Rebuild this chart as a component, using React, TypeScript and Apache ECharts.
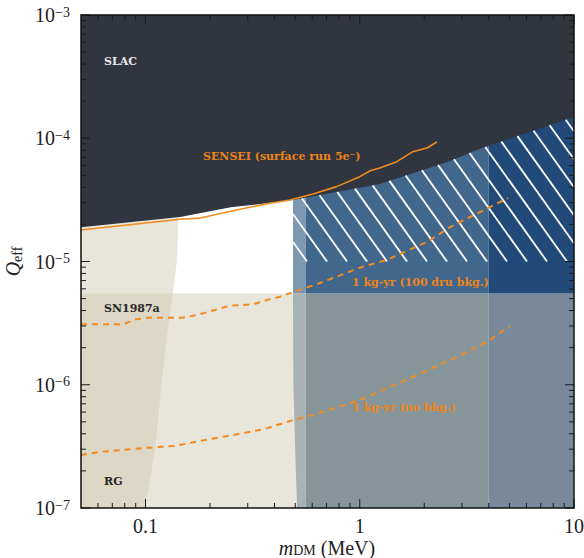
import React, { useEffect, useRef } from "react";
import * as echarts from "echarts";

const X_MIN = 0.05;
const X_MAX = 10;
const Y_MIN = 1e-7;
const Y_MAX = 1e-3;

// axis ticks
const xTickValues = [0.1, 1, 10];
const xTickLabels = ["0.1", "1", "10"];
const xMinorTicks = [0.06, 0.07, 0.08, 0.09, 0.2, 0.3, 0.4, 0.5, 0.6, 0.7, 0.8, 0.9, 2, 3, 4, 5, 6, 7, 8, 9];
const yTickValues = [1e-7, 1e-6, 1e-5, 1e-4, 1e-3];
const yTickExponents = ["−7", "−6", "−5", "−4", "−3"];
const yMinorTicks = [
  2e-7, 3e-7, 4e-7, 5e-7, 6e-7, 7e-7, 8e-7, 9e-7,
  2e-6, 3e-6, 4e-6, 5e-6, 6e-6, 7e-6, 8e-6, 9e-6,
  2e-5, 3e-5, 4e-5, 5e-5, 6e-5, 7e-5, 8e-5, 9e-5,
  2e-4, 3e-4, 4e-4, 5e-4, 6e-4, 7e-4, 8e-4, 9e-4,
];

// SLAC excluded region (lower boundary)
const slacM = [0.05, 0.145, 0.25, 0.488, 1.24, 2.55, 3.64, 10];
const slacQ = [1.9e-5, 2.3e-5, 2.75e-5, 3.15e-5, 4.25e-5, 6.4e-5, 8.2e-5, 1.49e-4];

// SENSEI surface run
const senseiM = [0.05, 0.145, 0.18, 0.266, 0.381, 0.472, 0.605, 0.78, 1.0, 1.12, 1.24, 1.49, 1.77, 2.06, 2.29];
const senseiQ = [1.8e-5, 2.2e-5, 2.25e-5, 2.62e-5, 2.97e-5, 3.15e-5, 3.53e-5, 4.05e-5, 4.88e-5, 5.45e-5, 5.74e-5, 6.46e-5, 7.78e-5, 8.34e-5, 9.33e-5];

// RG (red giant) region right boundary
const rgM = [0.142, 0.1403, 0.1341, 0.126, 0.1194, 0.1107, 0.0995];
const rgQ = [2.0e-5, 1.03e-5, 5.5e-6, 2.53e-6, 1.09e-6, 2.96e-7, 1e-7];

// SN1987a band
const snTopQ = 5.5e-6;
const snEdgeM = [0.488, 0.49, 0.497, 0.51];
const snEdgeQ = [5.5e-6, 1e-6, 4e-7, 1e-7];

// direct-detection style columns
const colEdges = [0.488, 0.56, 4.0, 10];
const hatchBottomQ = 1e-5;

// projections
const druM = [0.05, 0.0785, 0.0893, 0.1016, 0.1496, 0.1739, 0.2156, 0.2479, 0.3174, 0.369, 0.424, 0.472, 0.652, 1.024, 1.34, 2.06, 2.64, 3.64, 4.92];
const druQ = [3.09e-6, 3.09e-6, 3.38e-6, 3.5e-6, 3.5e-6, 3.68e-6, 4.09e-6, 4.38e-6, 4.49e-6, 4.87e-6, 5.18e-6, 5.52e-6, 6.69e-6, 9.03e-6, 1.03e-5, 1.44e-5, 1.9e-5, 2.52e-5, 3.27e-5];
const noBkgM = [0.05, 0.0613, 0.0995, 0.1373, 0.1796, 0.256, 0.361, 0.472, 0.605, 1.0, 1.77, 2.84, 4.05, 5.02];
const noBkgQ = [2.69e-7, 2.85e-7, 3.07e-7, 3.19e-7, 3.5e-7, 3.91e-7, 4.38e-7, 5.08e-7, 5.68e-7, 7.52e-7, 1.156e-6, 1.68e-6, 2.31e-6, 3.0e-6];

const C_SLAC = "#31353f";
const C_BEIGE = "#e8e5da";
const C_BEIGE_DARK = "#ddd7c5";
const BLUE_COLORS = ["#7d98b0", "#42678d", "#214a78"];
const GRAY_COLORS = ["#a9b3b4", "#869599", "#77899a"];
const C_ORANGE = "#f28a1e";
const C_ORANGE_TXT = "#ec8419";

const SERIF = '"Liberation Serif", "DejaVu Serif", serif';
const BOLD_SERIF = '"DejaVu Serif", serif';

type P = [number, number];
const zip = (a: number[], b: number[]): P[] => a.map((v, i) => [v, b[i]] as P);

function polySeries(pts: P[], color: string, z: number) {
  return {
    type: "custom",
    coordinateSystem: "cartesian2d",
    silent: true,
    clip: false,
    z,
    data: [[pts[0][0], pts[0][1]]],
    renderItem: (_p: any, api: any) => ({
      type: "polygon",
      shape: { points: pts.map((p) => api.coord(p)) },
      style: { fill: color, stroke: null },
    }),
  };
}

export default function App() {
  const ref = useRef<HTMLDivElement>(null);
  useEffect(() => {
    if (!ref.current) return;
    const chart = echarts.init(ref.current, null, { renderer: "svg" });

    const polys: any[] = [];
    for (let i = 0; i < 3; i++) {
      polys.push(polySeries([[colEdges[i], snTopQ], [colEdges[i + 1], snTopQ], [colEdges[i + 1], Y_MIN], [colEdges[i], Y_MIN]], GRAY_COLORS[i], 1));
    }
    for (let i = 0; i < 3; i++) {
      polys.push(polySeries([[colEdges[i], Y_MAX], [colEdges[i + 1], Y_MAX], [colEdges[i + 1], snTopQ], [colEdges[i], snTopQ]], BLUE_COLORS[i], 1));
    }
    polys.push(polySeries([[X_MIN, snTopQ], ...zip(snEdgeM, snEdgeQ), [X_MIN, Y_MIN]], C_BEIGE, 1));
    polys.push(polySeries([[X_MIN, 1e-4], [rgM[0], 1e-4], ...zip(rgM, rgQ), [X_MIN, Y_MIN]], C_BEIGE, 1));
    polys.push(polySeries([[X_MIN, snTopQ], ...zip(rgM, rgQ).slice(2), [X_MIN, Y_MIN]], C_BEIGE_DARK, 1));
    polys.push(polySeries([...zip(slacM, slacQ), [X_MAX, Y_MAX], [X_MIN, Y_MAX]], C_SLAC, 1));

    const hatchSeries = {
      type: "custom",
      coordinateSystem: "cartesian2d",
      silent: true,
      clip: false,
      z: 2,
      data: [[1, 1e-5]],
      renderItem: (_p: any, api: any) => {
        const top = slacM.map((m, i) => api.coord([m, slacQ[i]]));
        const bl = api.coord([colEdges[0], hatchBottomQ]);
        const xL = bl[0];
        const yB = bl[1];
        const xR = api.coord([X_MAX, hatchBottomQ])[0];
        const topY = (x: number) => {
          if (x <= top[0][0]) return top[0][1];
          for (let i = 0; i < top.length - 1; i++) {
            if (x <= top[i + 1][0]) {
              const t = (x - top[i][0]) / (top[i + 1][0] - top[i][0]);
              return top[i][1] + t * (top[i + 1][1] - top[i][1]);
            }
          }
          return top[top.length - 1][1];
        };
        const s = 1.4;
        const step = 20;
        const minTop = Math.min(...top.map((p: number[]) => p[1]));
        const children: any[] = [];
        for (let c = xL + 14; c <= xR + (yB - minTop) / s + step; c += step) {
          const ly = (x: number) => yB + s * (x - c);
          let lo = xL - 3000;
          let hi = c;
          for (let k = 0; k < 50; k++) {
            const mid = (lo + hi) / 2;
            if (ly(mid) - topY(mid) < 0) lo = mid;
            else hi = mid;
          }
          const x0 = Math.max(xL, hi);
          const x1 = Math.min(xR, c);
          if (x1 > x0 + 0.5) {
            children.push({
              type: "line",
              shape: { x1: x0, y1: ly(x0), x2: x1, y2: ly(x1) },
              style: { stroke: "#ffffff", lineWidth: 1.8 },
            });
          }
        }
        return { type: "group", children };
      },
    };

    const tickSeries = {
      type: "custom",
      coordinateSystem: "cartesian2d",
      silent: true,
      clip: false,
      z: 10,
      data: [[1, 1e-5]],
      renderItem: (_p: any, api: any) => {
        const tl = api.coord([X_MIN, Y_MAX]);
        const br = api.coord([X_MAX, Y_MIN]);
        const children: any[] = [];
        const tickStyle = { stroke: "#1a1a1a", lineWidth: 1 };
        const addX = (v: number, len: number) => {
          const x = api.coord([v, Y_MIN])[0];
          children.push({ type: "line", shape: { x1: x, y1: br[1], x2: x, y2: br[1] - len }, style: tickStyle });
          children.push({ type: "line", shape: { x1: x, y1: tl[1], x2: x, y2: tl[1] + len }, style: tickStyle });
        };
        const addY = (v: number, len: number) => {
          const y = api.coord([X_MIN, v])[1];
          children.push({ type: "line", shape: { x1: tl[0], y1: y, x2: tl[0] + len, y2: y }, style: tickStyle });
          children.push({ type: "line", shape: { x1: br[0], y1: y, x2: br[0] - len, y2: y }, style: tickStyle });
        };
        xTickValues.forEach((v) => addX(v, 9));
        xMinorTicks.forEach((v) => addX(v, 5));
        yTickValues.forEach((v) => addY(v, 9));
        yMinorTicks.forEach((v) => addY(v, 5));
        children.push({
          type: "rect",
          shape: { x: tl[0], y: tl[1], width: br[0] - tl[0], height: br[1] - tl[1] },
          style: { fill: "none", stroke: "#111111", lineWidth: 1.5 },
        });
        return { type: "group", children };
      },
    };

    const lineSeries = (m: number[], q: number[], dashed: boolean) => ({
      type: "line",
      z: 3,
      silent: true,
      showSymbol: false,
      symbol: "none",
      clip: false,
      data: zip(m, q),
      lineStyle: { color: C_ORANGE, width: dashed ? 2 : 1.6, type: dashed ? [6, 5] : "solid" },
    });

    const labelStyle = (text: string, x: number, y: number, fill: string, size = 11) => ({
      type: "text",
      z: 100,
      silent: true,
      style: {
        text,
        x,
        y,
        fill,
        font: `bold ${size}px ${BOLD_SERIF}`,
        textAlign: "left",
        textVerticalAlign: "middle",
        align: "left",
        verticalAlign: "middle",
      },
    });

    const tickRich = {
      b: { fontSize: 20, fontFamily: SERIF, color: "#222", lineHeight: 20 },
      s: { fontSize: 14, fontFamily: SERIF, color: "#222", lineHeight: 14, verticalAlign: "top" },
    };

    chart.setOption({
      animation: false,
      backgroundColor: "#ffffff",
      grid: { left: 81, right: 10, top: 15, bottom: 50, containLabel: false, outerBoundsMode: "none" },
      xAxis: {
        type: "log",
        logBase: 10,
        min: X_MIN,
        max: X_MAX,
        axisLine: { show: false },
        axisTick: { show: false },
        minorTick: { show: false },
        splitLine: { show: false },
        axisLabel: {
          margin: 8,
          formatter: (v: number) => {
            const i = xTickValues.findIndex((t) => Math.abs(Math.log10(t) - Math.log10(v)) < 1e-6);
            return i < 0 ? "" : `{b|${xTickLabels[i]}}`;
          },
          rich: tickRich,
        },
      },
      yAxis: {
        type: "log",
        logBase: 10,
        min: Y_MIN,
        max: Y_MAX,
        axisLine: { show: false },
        axisTick: { show: false },
        minorTick: { show: false },
        splitLine: { show: false },
        axisLabel: {
          margin: 11,
          formatter: (v: number) => {
            const i = yTickValues.findIndex((t) => Math.abs(Math.log10(t) - Math.log10(v)) < 1e-6);
            return i < 0 ? "" : `{b|10}{s|${yTickExponents[i]}}`;
          },
          rich: tickRich,
        },
        name: "{i|Q}{sub|eff}",
        nameLocation: "middle",
        nameGap: 49,
        nameTextStyle: {
          rich: {
            i: { fontSize: 20, fontFamily: SERIF, fontStyle: "italic", color: "#222", lineHeight: 22 },
            sub: { fontSize: 14, fontFamily: SERIF, color: "#222", lineHeight: 14, verticalAlign: "bottom" },
          },
        },
      },
      series: [
        ...polys,
        hatchSeries,
        lineSeries(senseiM, senseiQ, false),
        lineSeries(druM, druQ, true),
        lineSeries(noBkgM, noBkgQ, true),
        tickSeries,
      ],
      graphic: [
        labelStyle("SLAC", 104, 61, "#e8e8e8"),
        labelStyle("SN1987a", 104, 308, "#262626"),
        labelStyle("RG", 104, 481, "#262626"),
        labelStyle("SENSEI (surface run 5e⁻)", 203, 156, C_ORANGE_TXT),
        labelStyle("1 kg-yr (100 dru bkg.)", 352, 282, C_ORANGE_TXT),
        labelStyle("1 kg-yr (no bkg.)", 352, 407, C_ORANGE_TXT),
        {
          type: "text",
          z: 100,
          silent: true,
          style: {
            text: "{i|m}{sub|DM}{n| (MeV)}",
            x: 327,
            y: 548,
            align: "center",
            verticalAlign: "middle",
            textAlign: "center",
            textVerticalAlign: "middle",
            rich: {
              i: { fontSize: 20, fontFamily: SERIF, fontStyle: "italic", fill: "#222", lineHeight: 18 },
              sub: { fontSize: 14, fontFamily: SERIF, fill: "#222", lineHeight: 14, verticalAlign: "bottom" },
              n: { fontSize: 20, fontFamily: SERIF, fill: "#222", lineHeight: 18 },
            },
          },
        },
      ],
    });
    return () => chart.dispose();
  }, []);
  return <div ref={ref} style={{ position: "fixed", left: 0, top: 0, width: 584, height: 558 }} />;
}
